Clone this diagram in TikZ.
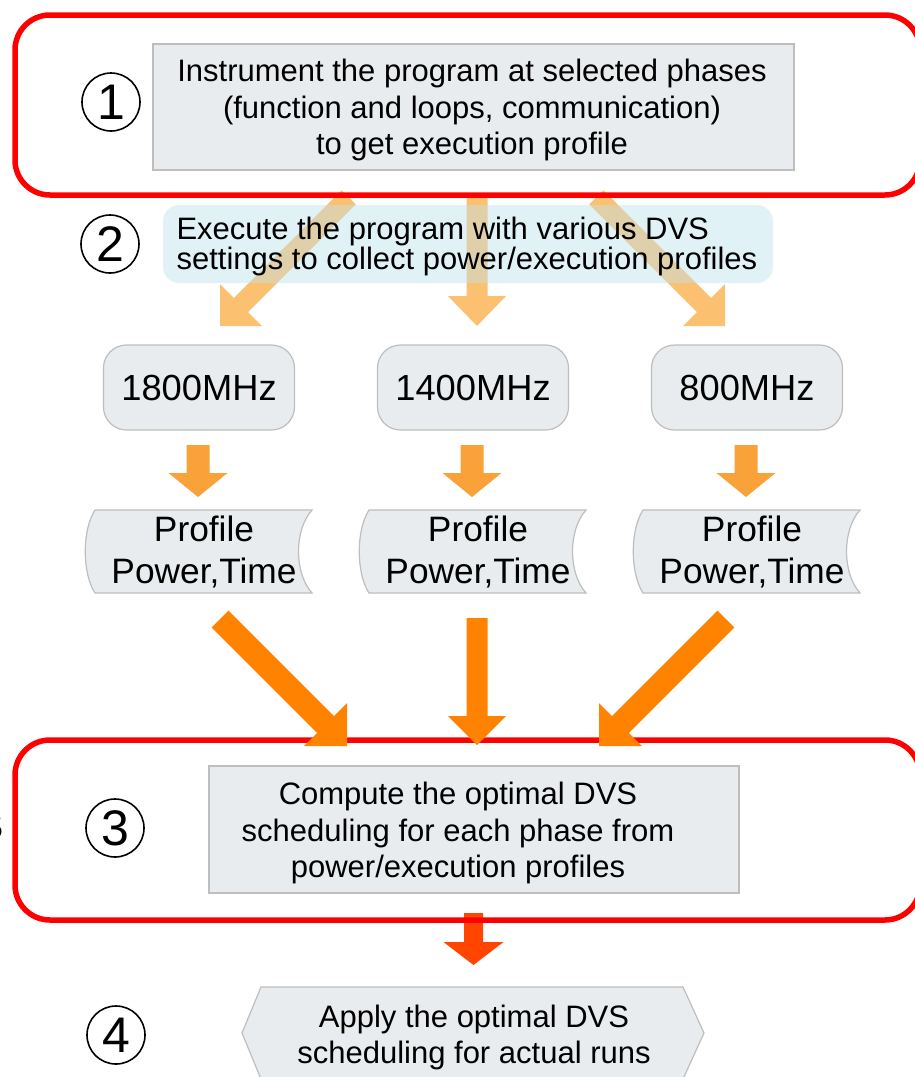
\documentclass[tikz,border=0pt]{standalone}
\usepackage{fontspec}
\setmainfont{Liberation Sans}
\definecolor{lightor}{HTML}{FBC070}
\definecolor{midor}{HTML}{F9A23A}
\definecolor{bigor}{HTML}{FF8200}
\definecolor{redor}{HTML}{FF4500}
\definecolor{boxfill}{HTML}{E9ECEE}
\definecolor{boxline}{HTML}{BEBEBE}
\definecolor{bluefill}{HTML}{BEE4EF}
% #1 style, #2 tip coordinate, #3 direction angle, #4 total length,
% #5 shaft half width, #6 head half width, #7 head length
\newcommand{\blkarrow}[7]{%
  \begin{scope}[shift={(#2)}, rotate=#3]
    \fill[#1] (0,0) -- (-#7,#6) -- (-#7,#5) -- (-#4,#5) -- (-#4,-#5) -- (-#7,-#5) -- (-#7,-#6) -- cycle;
  \end{scope}}
\newcommand{\profshape}[1]{%
  \draw[graybox, shift={(#1,0)}] (95,510) -- (312,510) .. controls (294,530) and (294,573) .. (312,593)
    -- (95,593) .. controls (82,573) and (82,530) .. (95,510) -- cycle;}
\tikzset{
  graybox/.style={draw=boxline, fill=boxfill, line width=1.2pt},
  redframe/.style={draw=red, line width=5.5pt, rounded corners=35pt},
  stepnum/.style={circle, draw=black, line width=1.6pt, minimum size=58pt, inner sep=0pt,
    font=\fontsize{50}{50}\selectfont},
  bodytext/.style={align=center, font=\fontsize{31}{36.5}\selectfont},
  freqbox/.style={graybox, rounded corners=23pt, minimum width=191pt, minimum height=85pt,
    inner sep=0pt, font=\fontsize{36.3}{42}\selectfont},
  proftext/.style={align=center, font=\fontsize{35.3}{42}\selectfont},
}
\begin{document}
\begin{tikzpicture}[x=1pt, y=-1pt]
\useasboundingbox (0,0) rectangle (914,1077);
\fill[white] (0,0) rectangle (914,1077);

% named tips of the light arrows
\coordinate (la) at (220,326);
\coordinate (lb) at (477,326);
\coordinate (lc) at (725,326);
\blkarrow{lightor}{la}{-135}{182}{10}{29.7}{29.7}
\blkarrow{lightor}{lb}{-90}{129}{10.5}{29}{30}
\blkarrow{lightor}{lc}{-45}{182}{10}{29.7}{29.7}

% step 2 box (translucent, over arrows)
\fill[bluefill, fill opacity=0.45, rounded corners=16pt] (163,205) rectangle (773,283);
\node[anchor=west, align=left, font=\fontsize{31}{30}\selectfont] (t2) at (173,246)
  {Execute the program with various DVS\\settings to collect power/execution profiles};

% step 1
\draw[redframe] (15,15) rectangle (920,195);
\node[graybox, minimum width=641pt, minimum height=126pt] (b1) at (473.5,107) {};
\node[bodytext] (t1) at (472,110)
  {Instrument the program at selected phases\\(function and loops, communication)\\to get execution profile};

% step numbers
\node[stepnum] (n1) at (111,102) {1};
\node[stepnum] (n2) at (110,244) {2};
\node[stepnum] (n3) at (115,828) {3};
\node[stepnum] (n4) at (116,1035) {4};

% frequency boxes
\node[freqbox] (f1) at (199,387.5) {1800MHz};
\node[freqbox] (f2) at (473,387.5) {1400MHz};
\node[freqbox] (f3) at (747,387.5) {800MHz};

% medium arrows
\coordinate (ma) at (198,497);
\coordinate (mb) at (472,497);
\coordinate (mc) at (746,497);
\blkarrow{midor}{ma}{-90}{52}{11.5}{29.5}{24}
\blkarrow{midor}{mb}{-90}{52}{11.5}{29.5}{24}
\blkarrow{midor}{mc}{-90}{52}{11.5}{29.5}{24}

% profiles
\profshape{0}
\profshape{274}
\profshape{548}
\node[proftext] (p1) at (204,552) {Profile\\Power,Time};
\node[proftext] (p2) at (478,552) {Profile\\Power,Time};
\node[proftext] (p3) at (752,552) {Profile\\Power,Time};

% arrow to step 4
\coordinate (ra) at (473.5,965);
\blkarrow{redor}{ra}{-90}{52}{9.5}{30}{23}

% step 3 frame
\draw[redframe] (15,740) rectangle (920,920);

% big arrows
\coordinate (ba) at (347,746);
\coordinate (bb) at (477,745);
\coordinate (bc) at (599,746);
\blkarrow{bigor}{ba}{-45}{179.6}{12}{30.4}{30.4}
\blkarrow{bigor}{bb}{-90}{127}{10.5}{29}{29}
\blkarrow{bigor}{bc}{-135}{179.6}{12}{30.4}{30.4}

\node[graybox, minimum width=530pt, minimum height=127pt] (b3) at (474,829.5) {};
\node[bodytext] (t3) at (458,833)
  {Compute the optimal DVS\\scheduling for each phase from\\power/execution profiles};

% step 4 box
\draw[graybox] (261,987) -- (683,987) -- (704,1033) -- (683,1079) -- (261,1079) -- (242,1033) -- cycle;
\node[bodytext, font=\fontsize{31}{36}\selectfont] (b4) at (474,1037)
  {Apply the optimal DVS\\scheduling for actual runs};

% clipped glyph at the left edge
\node[anchor=east, inner sep=0pt, font=\fontsize{30}{36}\selectfont] (cl) at (3,828) {5};
\end{tikzpicture}
\end{document}
